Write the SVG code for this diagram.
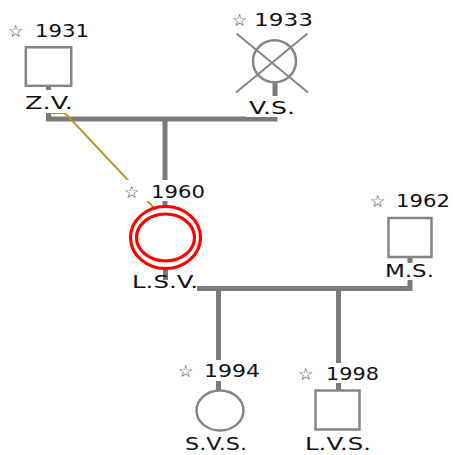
<svg xmlns="http://www.w3.org/2000/svg" width="453" height="455" viewBox="0 0 453 455">
<style>
.ln{fill:none;stroke:#7a7a7a;stroke-width:5}
.gold{fill:none;stroke:#b8962e;stroke-width:2}
.nd{fill:#fff;stroke:#858585;stroke-width:2.5}
.bg{fill:#fff}
.t{font-family:"DejaVu Sans",Verdana,sans-serif;font-size:17.5px;fill:#111}
.st{font-family:"DejaVu Sans",sans-serif;font-size:17px;fill:#3a3a4a}
.red{fill:none;stroke:#ff0000;stroke-width:3.2}
</style>
<rect width="453" height="455" fill="#fff"/>
<g id="connectors">
<path class="ln" d="M48.5,87 V119 H275 V83"/>
<path class="ln" d="M165,119 V207"/>
<path class="ln" d="M165.5,268 V288.5 H410 V258"/>
<path class="ln" d="M218.5,288.5 V391"/>
<path class="ln" d="M338.5,288.5 V391"/>
<path class="gold" d="M50,113 H65 L155,209"/>
</g>
<g id="node-zv">
<rect class="nd" x="25.8" y="47.3" width="45.4" height="38.5"/>
<rect class="bg" x="22" y="90" width="53" height="23"/>
<text class="st" x="8" y="37">☆</text>
<text class="t" x="35" y="37" textLength="54" lengthAdjust="spacingAndGlyphs">1931</text>
<text class="t" x="25" y="109" textLength="48" lengthAdjust="spacingAndGlyphs">Z.V.</text>
</g>
<g id="node-vs">
<ellipse class="nd" cx="274.5" cy="61.3" rx="21.5" ry="21"/>
<path d="M236.5,33.5 L308,92.5 M307.5,33.5 L236,92.5" stroke="#858585" stroke-width="2" fill="none"/>
<rect class="bg" x="246" y="96" width="51" height="21"/>
<text class="st" x="232" y="26">☆</text>
<text class="t" x="254" y="26" textLength="59" lengthAdjust="spacingAndGlyphs">1933</text>
<text class="t" x="249" y="114" textLength="46" lengthAdjust="spacingAndGlyphs">V.S.</text>
</g>
<g id="node-lsv">
<ellipse class="red" cx="165.5" cy="237.5" rx="35" ry="31"/>
<ellipse class="red" cx="165.5" cy="237.5" rx="29" ry="23.5"/>
<rect class="bg" x="122" y="180" width="85" height="21"/>
<rect class="bg" x="129" y="280" width="68" height="13"/>
<text class="st" x="124" y="198">☆</text>
<text class="t" x="151" y="198" textLength="54" lengthAdjust="spacingAndGlyphs">1960</text>
<text class="t" x="132" y="288" textLength="66" lengthAdjust="spacingAndGlyphs">L.S.V.</text>
</g>
<g id="node-ms">
<rect class="nd" x="388.5" y="218" width="43" height="39"/>
<rect class="bg" x="383" y="263" width="52" height="17"/>
<text class="st" x="370" y="207">☆</text>
<text class="t" x="396" y="207" textLength="54" lengthAdjust="spacingAndGlyphs">1962</text>
<text class="t" x="385" y="277" textLength="49" lengthAdjust="spacingAndGlyphs">M.S.</text>
</g>
<g id="node-svs">
<ellipse class="nd" cx="220" cy="410.5" rx="23.5" ry="20"/>
<rect class="bg" x="176" y="360" width="86" height="21"/>
<text class="st" x="178" y="377">☆</text>
<text class="t" x="204" y="377" textLength="56" lengthAdjust="spacingAndGlyphs">1994</text>
<text class="t" x="185" y="450" textLength="62" lengthAdjust="spacingAndGlyphs">S.V.S.</text>
</g>
<g id="node-lvs">
<rect class="nd" x="315.5" y="390.5" width="44" height="39"/>
<rect class="bg" x="296" y="363" width="85" height="20"/>
<text class="st" x="298" y="380">☆</text>
<text class="t" x="326" y="380" textLength="53" lengthAdjust="spacingAndGlyphs">1998</text>
<text class="t" x="305" y="450" textLength="66" lengthAdjust="spacingAndGlyphs">L.V.S.</text>
</g>
</svg>
